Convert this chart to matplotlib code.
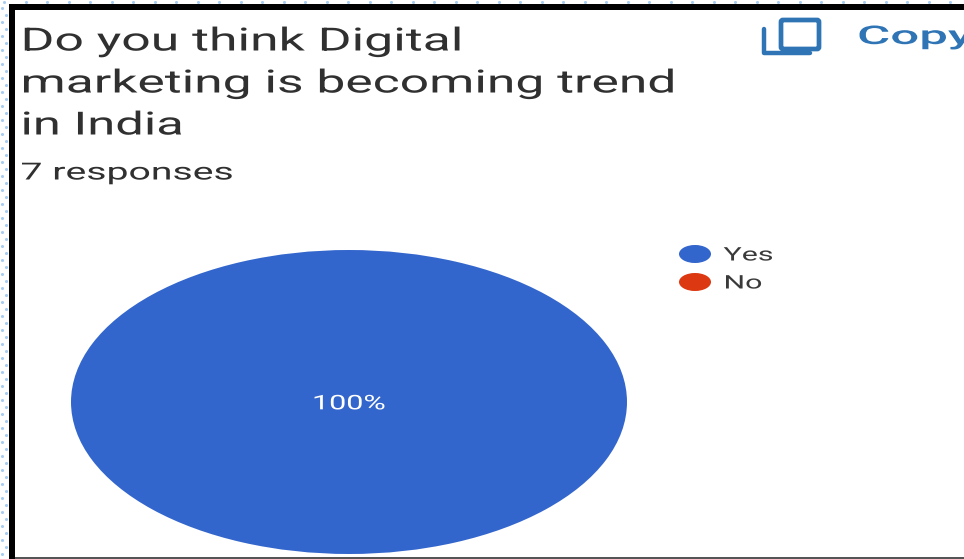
# coding: utf-8
import matplotlib
matplotlib.use("Agg")
import matplotlib.pyplot as plt
from matplotlib.patches import Ellipse, Rectangle, FancyBboxPatch
from matplotlib.patheffects import AbstractPathEffect
from matplotlib.transforms import Affine2D
import numpy as np

# form question and its answers
title_lines = ["Do you think Digital", "marketing is becoming trend", "in India"]
response_text = "7 responses"
categories = ["Yes", "No"]
responses = [7, 0]
colors = ["#3366cc", "#dc3912"]

W, H = 964, 559
plt.rcParams['font.family'] = ['Roboto', 'DejaVu Sans']
text_col = "#303030"
dot_col = "#a9cdf0"


# glyphs are wide in this layout, so scale text along x around a fixed pixel
class StretchX(AbstractPathEffect):
    def __init__(self, x0, sx):
        super().__init__()
        self.x0 = x0
        self.sx = sx

    def draw_path(self, renderer, gc, tpath, affine, rgbFace=None):
        m = affine + Affine2D().translate(-self.x0, 0).scale(self.sx, 1).translate(self.x0, 0)
        renderer.draw_path(gc, tpath, m, rgbFace)


def stretch_to(txt, x0, width):
    r = fig.canvas.get_renderer()
    w = txt.get_window_extent(r).width
    txt.set_path_effects([StretchX(x0, width / w)])


fig = plt.figure(figsize=(W / 100, H / 100), dpi=100, facecolor="white")

# overlay in pixel units for the frame, header and legend
bg = fig.add_axes([0, 0, 1, 1])
bg.set_xlim(0, W)
bg.set_ylim(H, 0)
bg.axis('off')

# dotted page background showing around the frame
xs_top = np.arange(4, W, 21.5)
bg.scatter(xs_top, np.full(len(xs_top), 1.5), s=5, color=dot_col, linewidths=0)
ys_left = np.arange(8, H, 14)
bg.scatter(np.full(len(ys_left), 1.5), ys_left, s=5, color=dot_col, linewidths=0)
bg.scatter(np.full(len(ys_left), 6), ys_left + 7, s=5, color=dot_col, linewidths=0)

bg.add_patch(Rectangle((9, 4), W - 9, 6, color="black", lw=0))
bg.add_patch(Rectangle((9, 4), 6, H - 4, color="black", lw=0))
bg.add_patch(Rectangle((15, 557), W - 15, 2, color="#555555", lw=0))

# title block
line_y = [42, 84, 126]
line_w = [444, 658, 164]
for y, line, w in zip(line_y, title_lines, line_w):
    t = bg.text(20.5, y, line, fontsize=23, color=text_col, va='center', ha='left')
    stretch_to(t, 20.5, w)
t = bg.text(20.5, 173, response_text, fontsize=17, color=text_col, va='center', ha='left')
stretch_to(t, 20.5, 213)

# copy icon and label
copy_col = "#2f74b5"
bg.add_patch(FancyBboxPatch((781, 20), 38, 29, boxstyle="round,pad=0,rounding_size=2",
                            fill=False, ec=copy_col, lw=3.4))
bg.plot([764, 764, 810], [29, 53, 53], color=copy_col, lw=3.2, solid_capstyle='round')
t = bg.text(857, 37, "Copy", fontsize=18.5, color=copy_col, va='center', ha='left', fontweight='medium')
stretch_to(t, 857, 116)

# legend
legend_y = [254, 282]
legend_w = [50, 39]
for y, name, c, w in zip(legend_y, categories, colors, legend_w):
    bg.add_patch(Ellipse((695, y), 32, 18, color=c, lw=0))
    t = bg.text(723.5, y + 1.5, name, fontsize=13.5, color="#3a3a3a", va='center', ha='left')
    stretch_to(t, 723.5, w)

# pie stretched to the wide ellipse
ax = fig.add_axes([71 / W, 1 - 554 / H, 556 / W, 304 / H])
wedges, texts, autotexts = ax.pie(responses, colors=colors, startangle=90, radius=1, counterclock=False,
                                  autopct=lambda p: "%d%%" % round(p) if p > 0 else "", pctdistance=0.012,
                                  textprops={'color': 'white', 'fontsize': 14.5})
ax.set_aspect('auto')
ax.set_xlim(-1, 1)
ax.set_ylim(-1, 1)
autotexts[0].set_y(-0.012)
autotexts[0].set_x(0)
stretch_to(autotexts[0], 349, 74)

fig.savefig("out.png", dpi=100)
